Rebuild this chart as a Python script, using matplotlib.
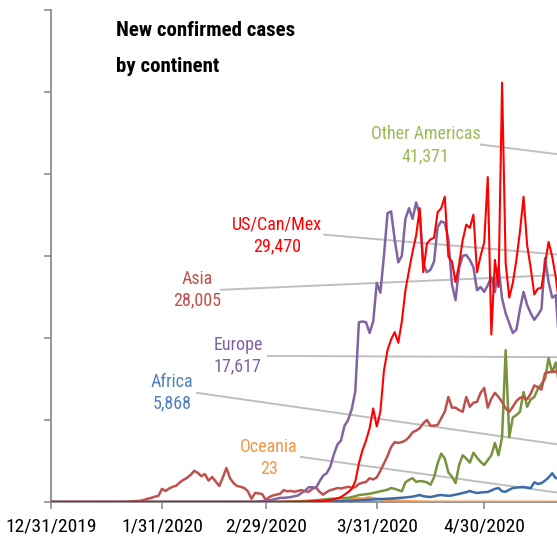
import matplotlib
matplotlib.use("Agg")
import matplotlib.pyplot as plt
from matplotlib import font_manager
import pandas as pd

# pick a condensed face if one is installed
installed = {f.name for f in font_manager.fontManager.ttflist}
narrow = None
for cand in ['Liberation Sans Narrow', 'Roboto Condensed', 'DejaVu Sans Condensed', 'Open Sans Condensed']:
    if cand in installed:
        narrow = cand
        break
if narrow:
    plt.rcParams['font.family'] = [narrow, 'DejaVu Sans']
    fs, tick_fs, title_fs = 13, 14, 15
else:
    plt.rcParams['font.family'] = ['Liberation Sans', 'DejaVu Sans']
    fs, tick_fs, title_fs = 10.5, 11, 12.5

# daily new cases, 12/31/2019 onwards (one value per day)
start = pd.Timestamp('2019-12-31')
asia = [
    0, 0, 0, 0, 0, 0, 0, 0, 0, 0,
    0, 0, 0, 0, 0, 0, 0, 0, 0, 0,
    0, 20, 50, 80, 100, 150, 250, 400, 500, 650,
    750, 1600, 1350, 1650, 1850, 2000, 2400, 2700, 2950, 3300,
    3800, 3550, 3150, 3400, 2600, 3050, 2500, 1950, 3000, 4150,
    2900, 2300, 1950, 1850, 1700, 1300, 400, 1100, 1050, 950,
    250, 600, 800, 900, 1000, 1450, 1300, 1350, 1250, 1350,
    1450, 1300, 1250, 1600, 1800, 1250, 900, 1200, 1450, 1550,
    1700, 1650, 1750, 1850, 1750, 1800, 2200, 2350, 2450, 2900,
    2750, 3000, 3800, 4700, 5600, 6700, 7300, 7200, 7300, 7500,
    7900, 8500, 8700, 9000, 9600, 10000, 9300, 9300, 9400, 10200,
    11000, 12800, 11500, 11500, 11200, 11000, 12800, 11600, 12100, 12200,
    13300, 13900, 11500, 12600, 13300, 12800, 12200, 11400, 11000, 11600,
    12300, 12700, 12800, 12500, 13200, 14200, 14000, 13700, 15700, 15800,
    15900, 15860, 16300, 16800, 17500, 18000, 18600, 19200, 19800, 20500,
    21200, 21800, 22500, 23200, 23900, 24600, 25300, 26000, 26800, 27400,
    28005]
us_can_mex = [
    0, 0, 0, 0, 0, 0, 0, 0, 0, 0,
    0, 0, 0, 0, 0, 0, 0, 0, 0, 0,
    0, 0, 0, 0, 0, 0, 0, 0, 0, 0,
    0, 0, 0, 0, 0, 0, 0, 0, 0, 0,
    0, 0, 0, 0, 0, 0, 0, 0, 0, 0,
    0, 0, 0, 0, 0, 0, 0, 0, 0, 0,
    0, 0, 10, 10, 20, 20, 30, 30, 40, 40,
    30, 40, 60, 80, 100, 120, 150, 200, 250, 350,
    450, 600, 900, 1200, 1600, 2500, 4700, 6300, 7500, 9000,
    11400, 9200, 11000, 16000, 18500, 19800, 20700, 19400, 22000, 25800,
    28200, 30500, 32500, 35800, 28000, 31500, 32000, 32200, 35300, 35800,
    37200, 29900, 29300, 26800, 29000, 31900, 33800, 33400, 35000, 28000,
    30000, 31600, 39600, 20400, 29500, 26200, 51100, 29100, 24900, 26700,
    29500, 33000, 37200, 31300, 28500, 25300, 26000, 26100, 29000, 31700,
    29900, 27400, 24000, 28000, 30500, 27000, 25000, 22000, 28000, 29500,
    30000, 27000, 25500, 24500, 28000, 30500, 29000, 26000, 24500, 27500,
    29470]
europe = [
    0, 0, 0, 0, 0, 0, 0, 0, 0, 0,
    0, 0, 0, 0, 0, 0, 0, 0, 0, 0,
    0, 0, 0, 0, 0, 0, 0, 0, 0, 0,
    0, 0, 0, 0, 0, 0, 0, 0, 0, 0,
    0, 0, 0, 0, 0, 0, 0, 0, 0, 0,
    0, 0, 0, 0, 0, 0, 0, 0, 50, 100,
    150, 200, 300, 400, 500, 500, 550, 600, 700, 800,
    1100, 1400, 1800, 1800, 1700, 2500, 3200, 3500, 4300, 5800,
    7000, 7500, 9300, 10000, 11300, 13500, 21900, 22000, 21900, 20600,
    22000, 26700, 25500, 30000, 35200, 35400, 32000, 29200, 30000, 34500,
    35800, 34500, 36500, 35000, 29000, 28000, 28300, 29300, 33500, 34200,
    34000, 32000, 26500, 24600, 28500, 30000, 30100, 29500, 28600, 25800,
    26200, 25600, 26400, 27400, 25600, 28600, 24800, 23000, 21800, 20600,
    21000, 23500, 25600, 24000, 23000, 22200, 22800, 23500, 29700, 26800,
    24900, 25200, 19000, 20500, 22000, 20500, 18500, 17500, 16500, 19000,
    20000, 18000, 17000, 16000, 17500, 18500, 19000, 17000, 15500, 16500,
    17617]
other_americas = [
    0, 0, 0, 0, 0, 0, 0, 0, 0, 0,
    0, 0, 0, 0, 0, 0, 0, 0, 0, 0,
    0, 0, 0, 0, 0, 0, 0, 0, 0, 0,
    0, 0, 0, 0, 0, 0, 0, 0, 0, 0,
    0, 0, 0, 0, 0, 0, 0, 0, 0, 0,
    0, 0, 0, 0, 0, 0, 0, 0, 0, 0,
    0, 0, 0, 0, 0, 20, 30, 50, 60, 80,
    100, 120, 150, 180, 200, 250, 300, 330, 380, 400,
    450, 450, 500, 500, 600, 700, 850, 900, 950, 1000,
    1100, 1200, 1300, 1400, 1500, 1700, 1600, 1450, 1300, 2400,
    2700, 2900, 2450, 2550, 2500, 2400, 2100, 3000, 4700, 5900,
    5300, 3600, 3100, 2300, 4500, 5700, 5300, 4800, 6000, 5400,
    4900, 4500, 5100, 5700, 7200, 5700, 7900, 18500, 7900, 10300,
    10600, 11000, 13400, 11600, 12500, 12800, 13800, 14400, 15000, 17500,
    15800, 17000, 14000, 20000, 22000, 21000, 24000, 26000, 23000, 25000,
    27000, 29000, 31000, 28000, 30000, 33000, 35000, 36000, 34000, 38000,
    41371]
africa = [
    0, 0, 0, 0, 0, 0, 0, 0, 0, 0,
    0, 0, 0, 0, 0, 0, 0, 0, 0, 0,
    0, 0, 0, 0, 0, 0, 0, 0, 0, 0,
    0, 0, 0, 0, 0, 0, 0, 0, 0, 0,
    0, 0, 0, 0, 0, 0, 0, 0, 0, 0,
    0, 0, 0, 0, 0, 0, 0, 0, 0, 0,
    0, 0, 0, 0, 0, 0, 0, 0, 0, 0,
    10, 15, 20, 25, 30, 40, 50, 60, 70, 80,
    90, 100, 110, 120, 150, 180, 200, 220, 250, 280,
    300, 330, 350, 380, 400, 420, 450, 480, 500, 550,
    600, 650, 750, 850, 700, 650, 600, 700, 800, 850,
    800, 750, 800, 900, 980, 1100, 1200, 1340, 1200, 1100,
    1150, 1200, 1220, 1400, 1600, 1700, 1300, 1250, 1500, 1700,
    1750, 1800, 1830, 1750, 1700, 2400, 2200, 2300, 2600, 3000,
    3500, 2900, 3000, 3200, 3400, 3100, 3500, 3700, 3900, 4000,
    4200, 4400, 4300, 4600, 4800, 5000, 5100, 5300, 5500, 5700,
    5868]
oceania = [
    0, 0, 0, 0, 0, 0, 0, 0, 0, 0,
    0, 0, 0, 0, 0, 0, 0, 0, 0, 0,
    0, 0, 0, 0, 0, 0, 0, 0, 0, 0,
    0, 0, 0, 0, 0, 0, 0, 0, 0, 0,
    0, 0, 0, 0, 0, 0, 0, 0, 0, 0,
    0, 0, 0, 0, 0, 0, 0, 0, 0, 0,
    0, 0, 0, 0, 0, 0, 0, 0, 0, 0,
    0, 0, 0, 0, 0, 20, 30, 50, 60, 80,
    100, 150, 200, 300, 350, 400, 450, 400, 500, 550,
    450, 400, 350, 300, 300, 250, 200, 150, 120, 100,
    80, 70, 60, 50, 40, 40, 30, 30, 30, 25,
    25, 20, 20, 20, 20, 20, 20, 20, 20, 20,
    20, 20, 20, 20, 20, 20, 20, 20, 20, 20,
    20, 20, 20, 20, 20, 20, 20, 20, 20, 20,
    20, 20, 20, 20, 20, 20, 20, 20, 20, 20,
    20, 20, 20, 20, 20, 20, 20, 20, 20, 20,
    23]

dates = pd.date_range(start, periods=len(asia), freq='D')

tick_dates = ['2019-12-31', '2020-01-31', '2020-02-29', '2020-03-31', '2020-04-30']
tick_labels = ['12/31/2019', '1/31/2020', '2/29/2020', '3/31/2020', '4/30/2020']

# name, data, line colour, label colour, label pos (day, value), leader start (day, value)
series = [
    ('Oceania', oceania, '#F79646', '#F79646', (60.9, 5365), (69.8, 5490)),
    ('Africa', africa, '#3C6BAA', '#4F81BD', (33.8, 13290), (40.8, 13300)),
    ('Other Americas', other_americas, '#77933C', '#9BBB59', (104.7, 43480), (120.1, 43550)),
    ('Asia', asia, '#C0504D', '#C0504D', (40.8, 25850), (47.5, 25860)),
    ('Europe', europe, '#8064A2', '#8064A2', (52.2, 17800), (60.6, 17800)),
    ('US/Can/Mex', us_can_mex, '#FF0000', '#FF0000', (63.1, 32500), (76.3, 32570)),
]

fig = plt.figure(figsize=(5.57, 5.38), dpi=100)
day_px = 3.58
ax = fig.add_axes([51 / 557, 36 / 538, 175 * day_px / 557, 492.4 / 538])

for name, vals, lc, tc, lab, lead in series:
    lw = 1.5 if name == 'US/Can/Mex' else 1.8
    ax.plot(dates, vals, color=lc, lw=lw, zorder=3)
    # leader line from label to last point
    ax.plot([start + pd.Timedelta(days=lead[0]), dates[-1]], [lead[1], vals[-1]],
            color='#BFBFBF', lw=1.4, zorder=1)
    ax.text(start + pd.Timedelta(days=lab[0]), lab[1], f"{name}\n{vals[-1]:,}",
            color=tc, ha='center', va='center', fontsize=fs, linespacing=1.25)

ax.set_xlim(start, start + pd.Timedelta(days=175))
ax.set_ylim(0, 60000)
ax.set_yticks(range(0, 60001, 10000))
ax.set_yticklabels([])
ax.set_xticks(pd.to_datetime(tick_dates))
ax.set_xticklabels(tick_labels, fontsize=tick_fs)

for s in ['top', 'right']:
    ax.spines[s].set_visible(False)
for s in ['left', 'bottom']:
    ax.spines[s].set_color('#8C8C8C')
    ax.spines[s].set_linewidth(1.3)
ax.tick_params(axis='both', colors='#8C8C8C', length=5, width=1.2, labelcolor='black')
ax.tick_params(axis='x', pad=6)

fig.text(116 / 557, 1 - 31 / 538, 'New confirmed cases', fontsize=title_fs, weight='bold', va='center')
fig.text(116 / 557, 1 - 66 / 538, 'by continent', fontsize=title_fs, weight='bold', va='center')

fig.savefig('out.png', dpi=100)
